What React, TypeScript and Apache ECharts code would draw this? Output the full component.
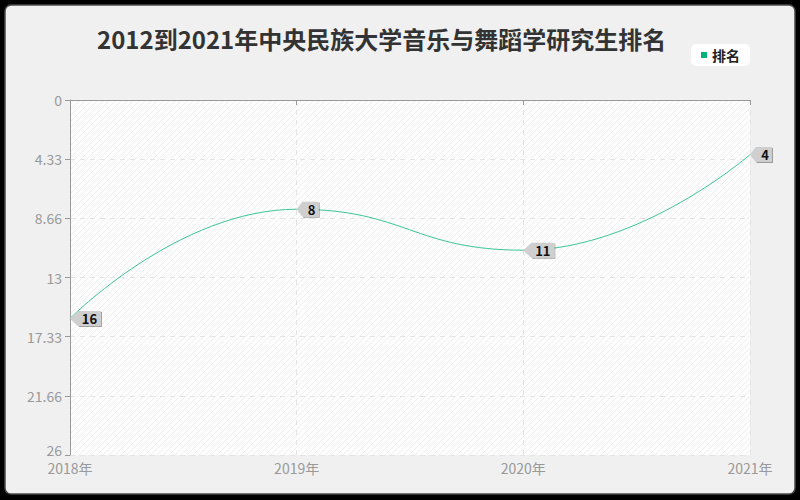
import { useEffect, useRef } from "react";
import * as echarts from "echarts";

const years = ["2018年", "2019年", "2020年", "2021年"];
const ranks = [16, 8, 11, 4];
const yTickLabels = ["0", "4.33", "8.66", "13", "17.33", "21.66", "26"];

const TAG_PATH = "path://M0,7L8,0L30,0L30,14L8,14Z";

function makeHatch(): HTMLCanvasElement {
  const canvas = document.createElement("canvas");
  canvas.width = 6;
  canvas.height = 6;
  const ctx = canvas.getContext("2d");
  if (ctx) {
    ctx.fillStyle = "#fdfdfd";
    ctx.fillRect(0, 0, 6, 6);
    ctx.strokeStyle = "#efefef";
    ctx.lineWidth = 1;
    for (const k of [-6, 0, 6]) {
      ctx.beginPath();
      ctx.moveTo(k, 6);
      ctx.lineTo(k + 6, 0);
      ctx.stroke();
    }
  }
  return canvas;
}

export default function App() {
  const reference = useRef<HTMLDivElement>(null);
  useEffect(() => {
    const element = reference.current;
    if (element === null) return;
    const chart = echarts.init(element, undefined, { renderer: "svg" });
    const step = 26 / 6;
    chart.setOption({
      animation: false,
      graphic: [
        {
          type: "rect",
          z: -10,
          silent: true,
          shape: { x: 5, y: 5, width: 790, height: 489, r: 6 },
          style: { fill: "#f0f0f0", stroke: "#4a4a4a", lineWidth: 1.5 },
        },
      ],
      title: {
        text: "2012到2021年中央民族大学音乐与舞蹈学研究生排名",
        left: 92,
        top: 21,
        textStyle: {
          fontFamily: "Noto Sans CJK SC",
          fontSize: 24,
          fontWeight: "bold",
          color: "#333",
        },
      },
      legend: {
        right: 50,
        top: 44,
        backgroundColor: "#fff",
        borderRadius: 5,
        padding: [4, 10],
        icon: "rect",
        itemWidth: 6,
        itemHeight: 6,
        itemGap: 5,
        data: [{ name: "排名", itemStyle: { color: "#00b377" } }],
        textStyle: {
          fontFamily: "Noto Sans CJK SC",
          fontSize: 14,
          fontWeight: "bold",
          color: "#222",
        },
      },
      grid: {
        left: 70,
        right: 50,
        top: 100,
        bottom: 45,
        show: true,
        borderWidth: 0,
        backgroundColor: { image: makeHatch(), repeat: "repeat" },
      },
      xAxis: {
        type: "category",
        data: years,
        boundaryGap: false,
        axisLine: { lineStyle: { color: "#999" } },
        axisTick: { lineStyle: { color: "#999" } },
        axisLabel: {
          color: "#999",
          fontSize: 14,
          lineHeight: 12,
          fontFamily: "Noto Sans CJK SC",
          margin: 7,
        },
        splitLine: {
          show: true,
          lineStyle: { color: "#e4e4e4", type: [5, 5] },
        },
      },
      yAxis: {
        type: "value",
        inverse: true,
        min: 0,
        max: 26,
        interval: step,
        axisLine: { show: true, lineStyle: { color: "#999" } },
        axisTick: { show: true, lineStyle: { color: "#999" } },
        axisLabel: {
          color: "#999",
          fontSize: 14,
          lineHeight: 12,
          fontFamily: "Noto Sans CJK SC",
          margin: 8,
          formatter: (value: number) => {
            const index = Math.round(value / step);
            const text = yTickLabels[index] ?? "";
            return index === yTickLabels.length - 1 ? `{last|${text}}` : text;
          },
          rich: {
            last: {
              color: "#999",
              fontSize: 14,
              lineHeight: 12,
              fontFamily: "Noto Sans CJK SC",
              padding: [0, 0, 10, 0],
            },
          },
        },
        splitLine: {
          show: true,
          lineStyle: { color: "#e4e4e4", type: [5, 5] },
        },
      },
      series: [
        {
          name: "排名",
          type: "line",
          smooth: true,
          lineStyle: { color: "#3cc49a", width: 1 },
          itemStyle: {
            color: "#cfcfcf",
            shadowColor: "rgba(0,0,0,0.35)",
            shadowBlur: 1,
            shadowOffsetX: 1,
            shadowOffsetY: 1,
          },
          symbol: TAG_PATH,
          symbolKeepAspect: false,
          label: {
            show: true,
            position: "inside",
            offset: [4, 0],
            color: "#111",
            fontSize: 13,
            fontWeight: "bold",
            fontFamily: "Noto Sans CJK SC",
          },
          data: ranks.map((value) => {
            const width = String(value).length > 1 ? 31 : 22;
            return {
              value,
              symbolSize: [width, 15],
              symbolOffset: [width / 2, 0],
            };
          }),
        },
      ],
    });
    return () => {
      chart.dispose();
    };
  }, []);
  return (
    <div
      style={{
        position: "fixed",
        left: 0,
        top: 0,
        width: 800,
        height: 500,
        background: "#000",
      }}
    >
      <div ref={reference} style={{ width: 800, height: 500 }} />
    </div>
  );
}
